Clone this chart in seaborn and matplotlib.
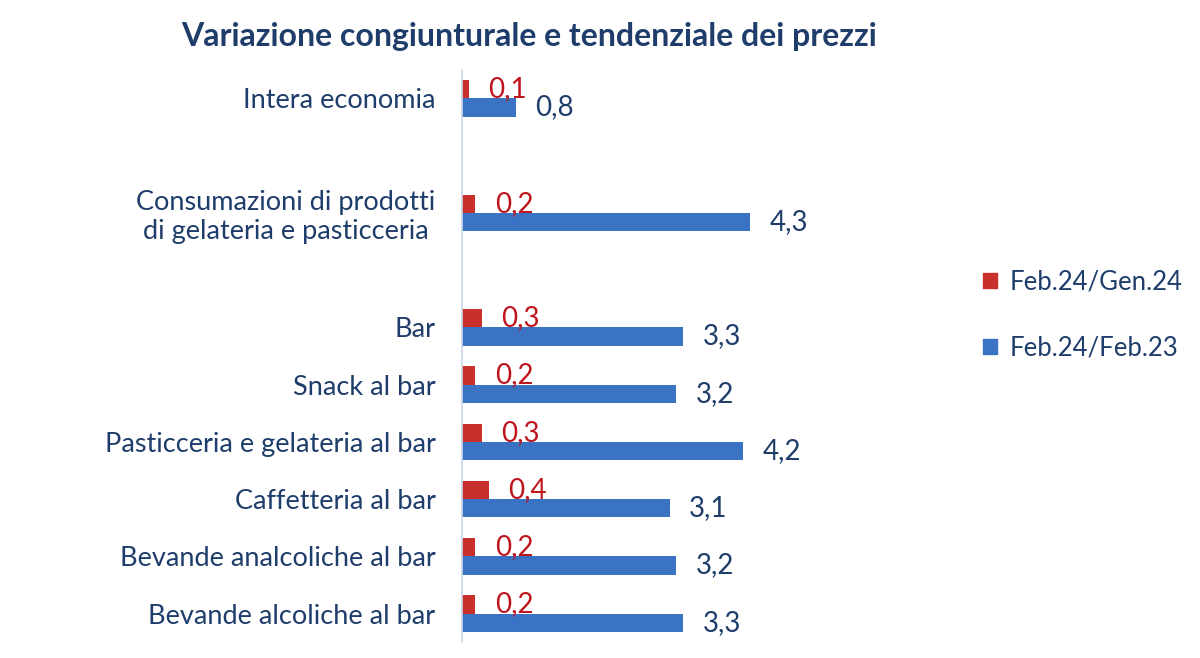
import pandas as pd
import seaborn as sns
import matplotlib.pyplot as plt

# Categories (top to bottom), blanks are the spacer rows
categories = ['Intera economia', ' ',
              'Consumazioni di prodotti\ndi gelateria e pasticceria ', '  ',
              'Bar', 'Snack al bar', 'Pasticceria e gelateria al bar',
              'Caffetteria al bar', 'Bevande analcoliche al bar',
              'Bevande alcoliche al bar']
items = ['Intera economia',
         'Consumazioni di prodotti\ndi gelateria e pasticceria ',
         'Bar', 'Snack al bar', 'Pasticceria e gelateria al bar',
         'Caffetteria al bar', 'Bevande analcoliche al bar',
         'Bevande alcoliche al bar']
congiunturale = [0.1, 0.2, 0.3, 0.2, 0.3, 0.4, 0.2, 0.2]
tendenziale = [0.8, 4.3, 3.3, 3.2, 4.2, 3.1, 3.2, 3.3]
series = ['Feb.24/Gen.24', 'Feb.24/Feb.23']

df = pd.DataFrame({
    'voce': items * 2,
    'valore': congiunturale + tendenziale,
    'serie': [series[0]] * len(items) + [series[1]] * len(items),
})

sns.set_style('white')
plt.rcParams['font.family'] = ['Lato', 'DejaVu Sans']

text_blue = '#1F3D6A'
red = '#C9302C'
blue = '#3A72C4'
red_text = '#C0141C'

fig = plt.figure(figsize=(12, 6.58), dpi=100)
ax = fig.add_axes([0.385, 0.024, 0.279, 0.87])

sns.barplot(data=df, y='voce', x='valore', hue='serie', order=categories,
            hue_order=series, palette=[red, blue], width=0.64,
            saturation=1, linewidth=0, orient='h', ax=ax, legend=False)

# value labels, decimal comma
for cont, col in zip(ax.containers, [red_text, text_blue]):
    labels = [f"{b.get_width():.1f}".replace('.', ',') for b in cont]
    ax.bar_label(cont, labels=labels, padding=14, color=col, fontsize=20)

ax.set_xlim(0, 5)
ax.set_xlabel('')
ax.set_ylabel('')
ax.set_xticks([])
ax.tick_params(axis='y', length=0, pad=19, labelsize=19.5, labelcolor=text_blue)
for s in ['top', 'right', 'bottom']:
    ax.spines[s].set_visible(False)
ax.spines['left'].set_color('#C9D6EA')
ax.spines['left'].set_linewidth(1.2)

handles = [plt.Rectangle((0, 0), 1, 1, color=red),
           plt.Rectangle((0, 0), 1, 1, color=blue)]
fig.legend(handles, series, loc='center left', bbox_to_anchor=(0.8, 0.521),
           frameon=False, fontsize=18.5, handlelength=0.55, handleheight=0.55,
           handletextpad=0.5, labelspacing=1.6, labelcolor=text_blue)

fig.text(0.441, 0.944, 'Variazione congiunturale e tendenziale dei prezzi',
         ha='center', va='center', fontsize=23, fontweight='bold',
         color=text_blue)

fig.savefig('out.png', dpi=100)
